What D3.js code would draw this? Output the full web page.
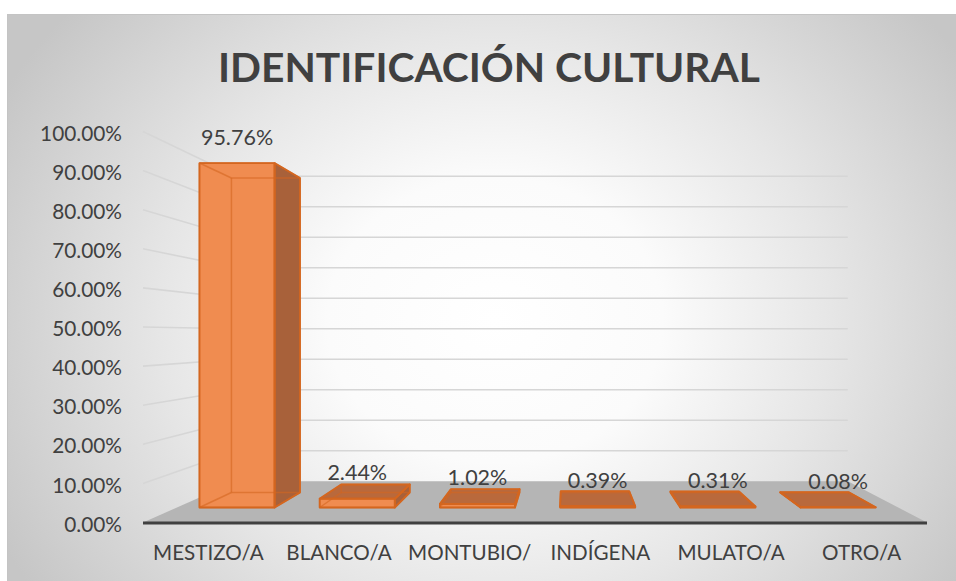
<!DOCTYPE html>
<html>
<head>
<meta charset="utf-8">
<script src="https://cdn.jsdelivr.net/npm/d3@7"></script>
<style>
  html, body { margin: 0; padding: 0; background: #ffffff; }
  svg { display: block; }
  text { font-family: Lato, "Open Sans", sans-serif; fill: #404040; }
</style>
</head>
<body>
<svg id="chart" width="956" height="581"></svg>
<script>
// Cultural self-identification shares
const categories = ["MESTIZO/A", "BLANCO/A", "MONTUBIO/", "INDÍGENA", "MULATO/A", "OTRO/A"];
const shares = [0.9576, 0.0244, 0.0102, 0.0039, 0.0031, 0.0008];
const tickValues = [0, 0.1, 0.2, 0.3, 0.4, 0.5, 0.6, 0.7, 0.8, 0.9, 1.0];
const title = "IDENTIFICACIÓN CULTURAL";

const W = 956, H = 581;
const svg = d3.select("#chart");

// ---- 3D projection: points slide toward a vanishing point as depth t grows
const VP = [567, 335];
const proj = (x, y, t) => [x + t * (VP[0] - x), y + t * (VP[1] - y)];
const T_WALL = 0.22;   // back wall depth
const T_FRONT = 0.08;  // bar front face depth
const T_BACK = 0.16;   // bar back face depth

const plotLeft = 143, plotRight = 927;
const x = d3.scaleBand().domain(categories).range([plotLeft, plotRight])
  .paddingInner(0.375).paddingOuter(0.1875);
const y = d3.scaleLinear().domain([0, 1]).range([522.5, 131.5]);

// ---- background
const defs = svg.append("defs");
const grad = defs.append("radialGradient").attr("id", "bg")
  .attr("gradientUnits", "userSpaceOnUse")
  .attr("cx", 495).attr("cy", 320).attr("r", 560)
  .attr("gradientTransform", "translate(495,320) scale(1,0.85) translate(-495,-320)");
[[0, "#ffffff"], [0.3, "#fbfbfb"], [0.6, "#e6e6e6"], [0.85, "#d2d2d2"], [1, "#c6c6c6"]]
  .forEach(([o, c]) => grad.append("stop").attr("offset", o).attr("stop-color", c));

svg.append("rect").attr("x", 7.5).attr("y", 14.5).attr("width", W - 7).attr("height", H - 14)
  .attr("fill", "url(#bg)").attr("stroke", "#c4c4c4").attr("stroke-width", 1);

// ---- title
const titleText = svg.append("text").attr("x", 489).attr("y", 82)
  .attr("text-anchor", "middle").style("font-weight", 700).style("font-size", "50px")
  .text(title);
const tw = titleText.node().getComputedTextLength();
titleText.style("font-size", (50 * 542 / tw) + "px");

const line = d3.line();

// ---- floor
const yBase = y(0);
svg.append("path")
  .attr("d", line([[plotLeft, yBase], [plotRight, yBase],
    proj(plotRight, yBase, T_WALL), proj(plotLeft, yBase, T_WALL)]) + "Z")
  .attr("fill", "#b5b5b5");

// ---- gridlines: along the side wall, then across the back wall
svg.append("g").selectAll("path")
  .data(tickValues.filter(v => v > 0))
  .join("path")
  .attr("d", v => line([[plotLeft, y(v)], proj(plotLeft, y(v), T_WALL), proj(plotRight, y(v), T_WALL)]))
  .attr("fill", "none").attr("stroke", "#d6d6d6").attr("stroke-width", 1.6);

// floor front edge
svg.append("line").attr("x1", plotLeft).attr("x2", plotRight)
  .attr("y1", yBase + 0.5).attr("y2", yBase + 0.5)
  .attr("stroke", "#404040").attr("stroke-width", 3);

// ---- value axis
const yAxis = svg.append("g").attr("transform", `translate(${plotLeft},2)`)
  .call(d3.axisLeft(y).tickValues(tickValues).tickFormat(d3.format(".2%"))
    .tickSize(0).tickPadding(21));
yAxis.select(".domain").remove();
yAxis.selectAll("text").style("font-size", "20.8px").style("font-family", "Lato, sans-serif")
  .attr("fill", "#404040");

// ---- category axis
const xAxis = svg.append("g").attr("transform", `translate(0,${yBase})`)
  .call(d3.axisBottom(x).tickSize(0).tickPadding(0));
xAxis.select(".domain").remove();
xAxis.selectAll("text").attr("y", 30).attr("dy", "0.35em")
  .style("font-size", "20.6px").style("font-family", "Lato, sans-serif").attr("fill", "#404040");

// ---- bars as boxes
const COL_FRONT = "#f08c50", COL_SIDE = "#a8613a", COL_TOP = "#b9693c", COL_EDGE = "#d4661f";
const bars = svg.append("g");
categories.forEach((c, i) => {
  const v = shares[i];
  const xa = x(c), xb = x(c) + x.bandwidth();
  const yt = y(v), yb = y(0);
  const F = {lt: proj(xa, yt, T_FRONT), rt: proj(xb, yt, T_FRONT), lb: proj(xa, yb, T_FRONT), rb: proj(xb, yb, T_FRONT)};
  const B = {lt: proj(xa, yt, T_BACK), rt: proj(xb, yt, T_BACK), lb: proj(xa, yb, T_BACK), rb: proj(xb, yb, T_BACK)};
  const g = bars.append("g");
  const faces = [];
  if (xb < VP[0]) faces.push({pts: [F.rt, B.rt, B.rb, F.rb], fill: COL_SIDE});
  if (xa > VP[0]) faces.push({pts: [F.lt, B.lt, B.lb, F.lb], fill: COL_SIDE});
  if (F.lt[1] > VP[1]) faces.push({pts: [F.lt, F.rt, B.rt, B.lt], fill: COL_TOP});
  faces.push({pts: [F.lt, F.rt, F.rb, F.lb], fill: COL_FRONT});
  faces.forEach(f => g.append("path").attr("d", line(f.pts) + "Z").attr("fill", f.fill));
  // every edge, faintly, so the box reads as translucent
  const edges = [[F.lt, F.rt], [F.rt, F.rb], [F.rb, F.lb], [F.lb, F.lt],
    [B.lt, B.rt], [B.rt, B.rb], [B.rb, B.lb], [B.lb, B.lt],
    [F.lt, B.lt], [F.rt, B.rt], [F.rb, B.rb], [F.lb, B.lb]];
  edges.forEach(e => g.append("path").attr("d", line(e)).attr("stroke", COL_EDGE)
    .attr("stroke-opacity", 0.6).attr("stroke-width", 1.5).attr("fill", "none"));
  faces.forEach(f => g.append("path").attr("d", line(f.pts) + "Z").attr("fill", "none")
    .attr("stroke", COL_EDGE).attr("stroke-width", 1.8).attr("stroke-linejoin", "round"));
  // value label above the front face
  svg.append("text").attr("x", (F.lt[0] + F.rt[0]) / 2).attr("y", F.lt[1] - 26)
    .attr("dy", "0.35em").attr("text-anchor", "middle").style("font-size", "21.5px")
    .text(d3.format(".2%")(v));
});
</script>
</body>
</html>
